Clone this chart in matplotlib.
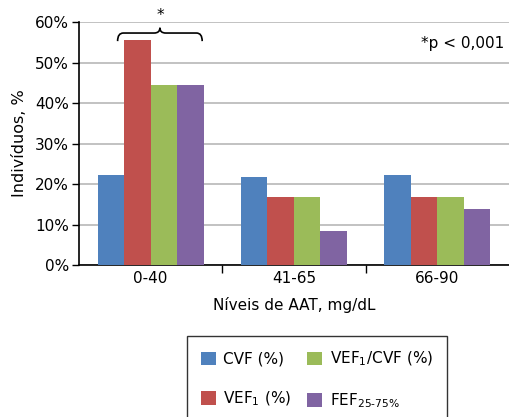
import numpy as np
import matplotlib
matplotlib.use("Agg")
import matplotlib.pyplot as plt
from matplotlib.path import Path
from matplotlib.patches import PathPatch, Patch

plt.rcParams['font.family'] = ['DejaVu Sans']
plt.rcParams['mathtext.default'] = 'regular'

# data
categories = ['0-40', '41-65', '66-90']
series_names = ['CVF (%)', 'VEF$_1$ (%)', 'VEF$_1$/CVF (%)', 'FEF$_{25\u201075\\%}$']
cvf = [22.2, 21.7, 22.2]
vef1 = [55.6, 16.7, 16.7]
vef1_cvf = [44.4, 16.7, 16.7]
fef = [44.4, 8.3, 13.9]
y_ticks = [0, 10, 20, 30, 40, 50, 60]

colors = ['#4F81BD', '#C0504D', '#9BBB59', '#8064A2']

fig = plt.figure(figsize=(5.09, 4.17), dpi=100)
ax = fig.add_axes([0.155, 0.3645, 0.845, 0.5825])

x = np.arange(len(categories))
w = 0.185
for i, vals in enumerate([cvf, vef1, vef1_cvf, fef]):
  ax.bar(x + (i - 1.5) * w, vals, w, color=colors[i], zorder=3)

ax.set_xlim(-0.5, 2.5)
ax.set_ylim(0, 60)
ax.set_yticks(y_ticks)
ax.set_yticklabels([f'{t}%' for t in y_ticks], fontsize=11)
ax.yaxis.grid(True, color='#b8b8b8', linewidth=1.2, zorder=0)
ax.set_xticks(x)
ax.set_xticklabels(categories, fontsize=11)
ax.tick_params(axis='x', length=0, pad=4)
ax.tick_params(axis='y', length=5, width=1, direction='out', pad=2)
ax.set_xticks([0.5, 1.5], minor=True)
ax.tick_params(axis='x', which='minor', length=6, width=1, direction='out')

for s in ['top', 'right']:
  ax.spines[s].set_visible(False)
ax.spines['left'].set_linewidth(1.2)
ax.spines['bottom'].set_linewidth(1.2)

ax.set_ylabel('Indivíduos, %', fontsize=11.5, labelpad=6)
ax.set_xlabel('Níveis de AAT, mg/dL', fontsize=11, labelpad=8)

# curly brace over first group
x0, x1 = -0.23, 0.36
xm = (x0 + x1) / 2
dx = 0.04
y0, y1, y2 = 55.3, 57.3, 58.6
verts = [(x0, y0), (x0, y1), (x0 + dx, y1), (xm - dx, y1), (xm, y1), (xm, y2),
         (xm, y1), (xm + dx, y1), (x1 - dx, y1), (x1, y1), (x1, y0)]
codes = [Path.MOVETO, Path.CURVE3, Path.CURVE3, Path.LINETO, Path.CURVE3, Path.CURVE3,
         Path.CURVE3, Path.CURVE3, Path.LINETO, Path.CURVE3, Path.CURVE3]
ax.add_patch(PathPatch(Path(verts, codes), fill=False, lw=1.2, color='black', clip_on=False, zorder=4))
ax.text(xm, 59.8, '*', ha='center', va='bottom', fontsize=11, clip_on=False)
ax.text(0.99, 0.91, '*p < 0,001', transform=ax.transAxes, ha='right', va='center', fontsize=11)

handles = [Patch(facecolor=c, edgecolor='none') for c in colors]
leg = fig.legend(handles, series_names, ncol=2, loc='upper left',
                 bbox_to_anchor=(0.352, 0.212), fontsize=11, frameon=True,
                 fancybox=False, edgecolor='black', handlelength=1.0, handleheight=1.0,
                 handletextpad=0.5, columnspacing=1.0, labelspacing=1.5, borderpad=0.9)
leg.get_frame().set_linewidth(1.0)

fig.savefig('out.png', dpi=100)
